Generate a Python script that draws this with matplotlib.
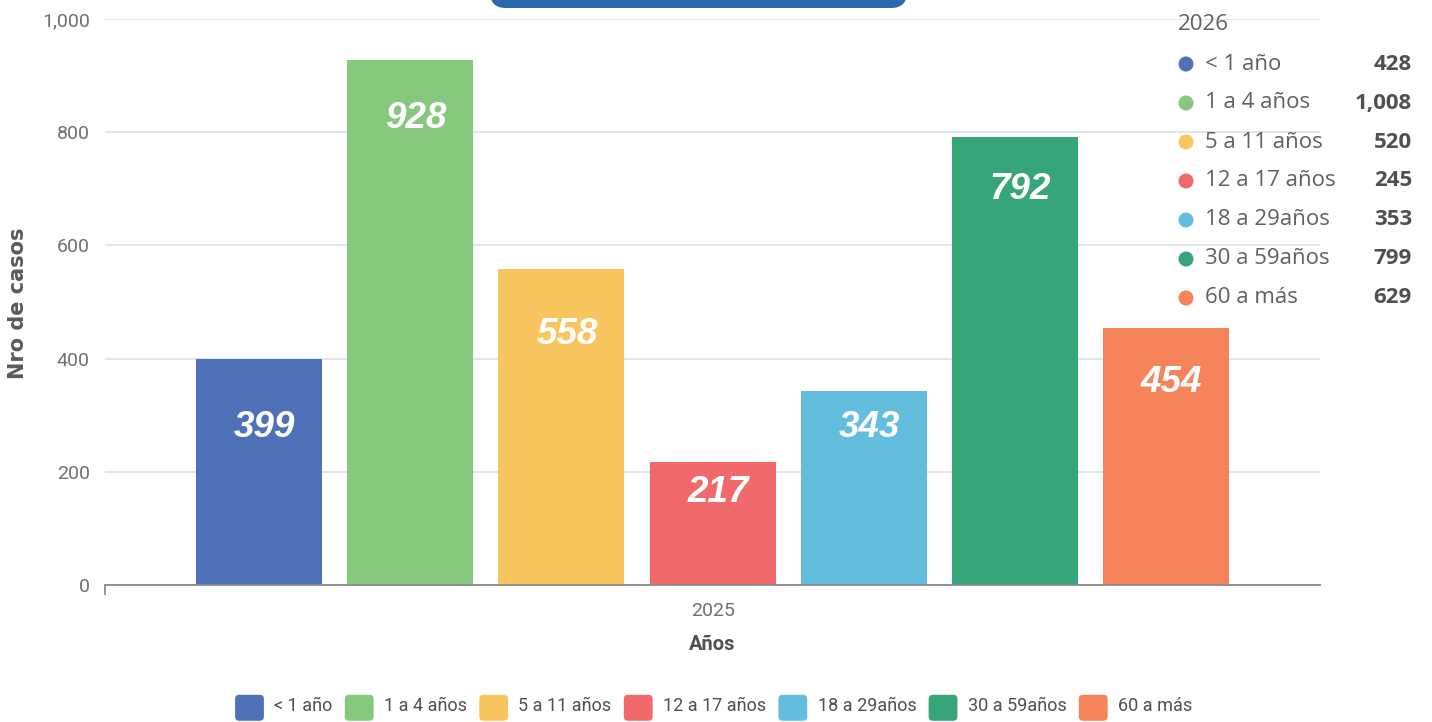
import matplotlib
matplotlib.use("Agg")
import matplotlib.pyplot as plt
from matplotlib.patches import FancyBboxPatch, Patch
from matplotlib.legend_handler import HandlerPatch
from matplotlib.transforms import IdentityTransform

# datos
categorias = ["< 1 año", "1 a 4 años", "5 a 11 años", "12 a 17 años",
              "18 a 29años", "30 a 59años", "60 a más"]
casos_2025 = [399, 928, 558, 217, 343, 792, 454]
casos_2026 = [428, 1008, 520, 245, 353, 799, 629]
colores = ["#4F71B8", "#86C87D", "#F9C55E", "#F0696B",
           "#63BDDC", "#36A57A", "#F5845A"]
anio_x = "2025"
anio_leyenda = "2026"
yticks = [0, 200, 400, 600, 800, 1000]

# separacion de la etiqueta respecto al tope de la barra (px)
caida_etiqueta = [68, 59, 65, 30, 37, 53, 54]

W, H = 1432, 722
fig = plt.figure(figsize=(W / 100, H / 100), dpi=100, facecolor="white")
fuente_ejes = "Roboto"

# ejes principales
ax = fig.add_axes([105 / W, 1 - 585 / H, 1215 / W, 566 / H])
n = len(categorias)
xs = list(range(n))
ancho = 126 / 151.3
ax.bar(xs, casos_2025, width=ancho, color=colores, zorder=3)
ax.set_xlim(-1.018, 7.017)
ax.set_ylim(0, 1000)

for i, v in enumerate(casos_2025):
    ax.annotate(str(v), (xs[i], v), xytext=(4, -caida_etiqueta[i] * 0.72),
                textcoords="offset points", ha="center", va="center",
                color="white", fontsize=26.5, fontweight="bold", style="italic",
                family="Liberation Sans", zorder=4)

ax.set_yticks(yticks)
ax.set_yticklabels([f"{t:,}" for t in yticks])
ax.grid(axis="y", color="#DDE4EE", linewidth=1.3, zorder=0)
ax.tick_params(axis="y", length=0, pad=11, labelsize=14, labelcolor="#707070")
for lab in ax.get_yticklabels():
    lab.set_family(fuente_ejes)

ax.set_xticks([3])
ax.set_xticklabels([anio_x])
ax.tick_params(axis="x", length=0, pad=12, labelsize=14, labelcolor="#707070")
for lab in ax.get_xticklabels():
    lab.set_family(fuente_ejes)
ax.set_xticks([-1.018], minor=True)
ax.tick_params(axis="x", which="minor", length=7, width=1.3, color="#8A8A8A")
ax.set_xlabel("Años", fontsize=14.5, fontweight="bold", color="#505050",
              family=fuente_ejes, labelpad=11)

for s in ["top", "right", "left"]:
    ax.spines[s].set_visible(False)
ax.spines["bottom"].set_color("#8A8A8A")
ax.spines["bottom"].set_linewidth(1.3)
ax.spines["bottom"].set_zorder(5)

fig.text(18 / W, 1 - 303 / H, "Nro de casos", rotation=90, ha="center",
         va="center", fontsize=15, fontweight="bold", color="#5A5A5A",
         family="DejaVu Sans")

# leyenda inferior con cuadros redondeados
class CuadroRedondo(HandlerPatch):
    def create_artists(self, legend, orig_handle, xdescent, ydescent,
                       width, height, fontsize, trans):
        p = FancyBboxPatch((-xdescent + 1, -ydescent - 3), width - 2, height + 2,
                           boxstyle="round,pad=0,rounding_size=3",
                           facecolor=orig_handle.get_facecolor(),
                           edgecolor="none", transform=trans)
        return [p]

handles = [Patch(facecolor=c) for c in colores]
leg = fig.legend(handles, categorias, loc="center", bbox_to_anchor=(713 / W, 1 - 705 / H),
                 ncol=n, frameon=False, handlelength=1.75, handleheight=1.6,
                 handletextpad=0.5, columnspacing=0.6,
                 prop={"family": fuente_ejes, "size": 13},
                 handler_map={Patch: CuadroRedondo()})
for t in leg.get_texts():
    t.set_color("#505050")

# panel de leyenda derecho (2026)
lx = fig.add_axes([1170 / W, 1 - 315 / H, 262 / W, 315 / H])
lx.set_xlim(0, 262)
lx.set_ylim(315, 0)
lx.set_facecolor("white")
lx.axis("off")
lx.patch.set_visible(True)
lx.text(8, 24, anio_leyenda, ha="left", va="center", fontsize=16,
        color="#606060", family="Open Sans")
filas = [64 + 39 * i for i in range(n)]
lx.scatter([16] * n, filas, s=117, c=colores, linewidths=0, zorder=3)
for i in range(n):
    lx.text(35, filas[i], categorias[i], ha="left", va="center", fontsize=16,
            color="#606060", family="Open Sans")
    lx.text(242, filas[i], f"{casos_2026[i]:,}", ha="right", va="center",
            fontsize=16, fontweight="bold", color="#505050", family="Open Sans")

# banda azul recortada en la parte superior
banda = FancyBboxPatch((490, H - 8), 417, 40,
                       boxstyle="round,pad=0,rounding_size=16",
                       facecolor="#2A67AC", edgecolor="none",
                       transform=IdentityTransform())
fig.patches.append(banda)

fig.savefig("out.png", dpi=100, facecolor="white")
